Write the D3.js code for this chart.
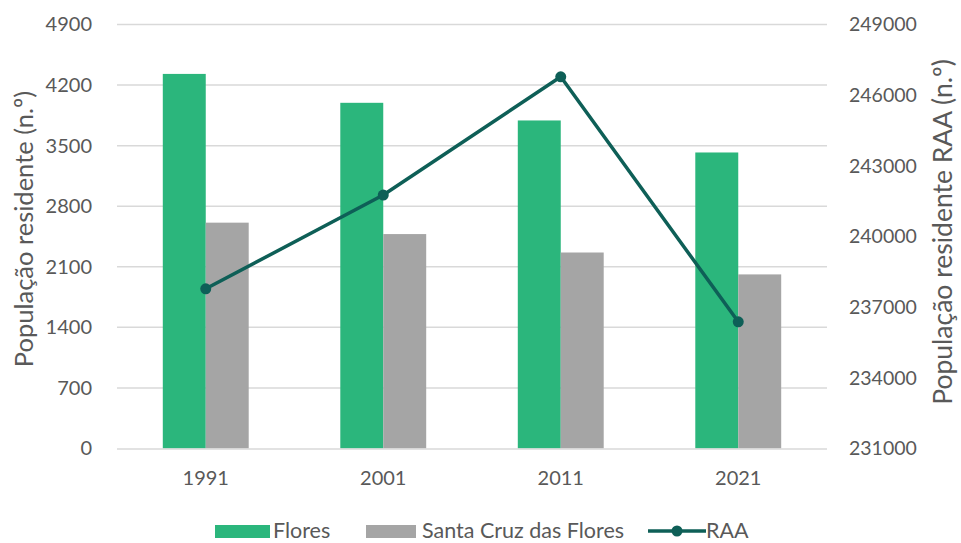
<!DOCTYPE html>
<html><head><meta charset="utf-8">
<script src="https://cdn.jsdelivr.net/npm/d3@7"></script>
<style>body{margin:0;background:#fff}svg{display:block}text{font-family:Lato,"Open Sans",sans-serif}</style>
</head><body>
<svg id="c" width="961" height="543"></svg>
<script>
const years = ["1991","2001","2011","2021"];
const flores = [4329, 3995, 3791, 3421];
const santaCruz = [2610, 2478, 2265, 2012];
const raa = [237780, 241760, 246780, 236380];
const leftTicks = [0,700,1400,2100,2800,3500,4200,4900];
const rightTicks = [231000,234000,237000,240000,243000,246000,249000];
const seriesNames = ["Flores","Santa Cruz das Flores","RAA"];

const svg = d3.select("#c");
const L = 117, R = 827, T = 24.5, B = 448.5;
const x = d3.scaleBand().domain(years).range([L,R]).paddingInner(0.516).paddingOuter(0.258);
const y = d3.scaleLinear().domain([0,4900]).range([B,T]);
const y2 = d3.scaleLinear().domain([231000,249000]).range([B,T]);
const tc = "#595959";
const green = "#2bb67c", gray = "#a5a5a5", dark = "#0e5f57";

// gridlines
svg.append("g").selectAll("line").data(leftTicks.slice(1)).join("line")
  .attr("x1",L).attr("x2",R).attr("y1",d=>y(d)).attr("y2",d=>y(d))
  .attr("stroke","#d9d9d9").attr("stroke-width",1.5);

// left axis
const ga = svg.append("g").attr("transform",`translate(${L-25},0)`)
  .call(d3.axisLeft(y).tickValues(leftTicks).tickSize(0).tickPadding(0).tickFormat(d3.format("d")));
ga.select(".domain").remove();
ga.selectAll("text").attr("fill",tc).attr("font-size",20).attr("font-family","Lato");

// right axis
const gb = svg.append("g").attr("transform",`translate(${R+22},0)`)
  .call(d3.axisRight(y2).tickValues(rightTicks).tickSize(0).tickPadding(0).tickFormat(d3.format("d")));
gb.select(".domain").remove();
gb.selectAll("text").attr("fill",tc).attr("font-size",19.5).attr("font-family","Lato");

// bars
const bw = x.bandwidth()/2;
svg.append("g").selectAll("rect").data(years).join("rect")
  .attr("x",d=>x(d)).attr("width",bw)
  .attr("y",(d,i)=>y(flores[i])).attr("height",(d,i)=>B-y(flores[i]))
  .attr("fill",green);
svg.append("g").selectAll("rect").data(years).join("rect")
  .attr("x",d=>x(d)+bw).attr("width",bw)
  .attr("y",(d,i)=>y(santaCruz[i])).attr("height",(d,i)=>B-y(santaCruz[i]))
  .attr("fill",gray);

// baseline
svg.append("line").attr("x1",L).attr("x2",R).attr("y1",B+0.5).attr("y2",B+0.5)
  .attr("stroke","#d9d9d9").attr("stroke-width",1.5);

// x axis
const gx = svg.append("g").attr("transform",`translate(0,${B})`)
  .call(d3.axisBottom(x).tickSize(0).tickPadding(22));
gx.select(".domain").remove();
gx.selectAll("text").attr("fill",tc).attr("font-size",20).attr("font-family","Lato");

// line
const cx = d=>x(d)+x.bandwidth()/2;
svg.append("path").datum(years)
  .attr("d",d3.line().x(d=>cx(d)).y((d,i)=>y2(raa[i])))
  .attr("fill","none").attr("stroke",dark).attr("stroke-width",3.5).attr("stroke-linejoin","round");
svg.append("g").selectAll("circle").data(years).join("circle")
  .attr("cx",cx).attr("cy",(d,i)=>y2(raa[i])).attr("r",5.5).attr("fill",dark);

// axis titles
svg.append("text").attr("transform",`translate(33,229) rotate(-90)`)
  .attr("text-anchor","middle").attr("fill",tc).attr("font-size",25.5)
  .text("População residente (n.º)");
svg.append("text").attr("transform",`translate(952,232) rotate(-90)`)
  .attr("text-anchor","middle").attr("fill",tc).attr("font-size",26.5)
  .text("População residente RAA (n.º)");

// legend
const lg = svg.append("g").attr("font-size",21.5).attr("fill",tc);
lg.append("rect").attr("x",215).attr("y",525).attr("width",55).attr("height",13).attr("fill",green);
lg.append("text").attr("x",273).attr("y",538).attr("fill",tc).text(seriesNames[0]);
lg.append("rect").attr("x",366).attr("y",525).attr("width",50).attr("height",13).attr("fill",gray);
lg.append("text").attr("x",422).attr("y",538).attr("fill",tc).text(seriesNames[1]);
lg.append("line").attr("x1",648).attr("x2",706).attr("y1",531).attr("y2",531).attr("stroke",dark).attr("stroke-width",3.5);
lg.append("circle").attr("cx",677).attr("cy",531).attr("r",5.5).attr("fill",dark);
lg.append("text").attr("x",706).attr("y",538).attr("fill",tc).text(seriesNames[2]);
</script>
</body></html>
